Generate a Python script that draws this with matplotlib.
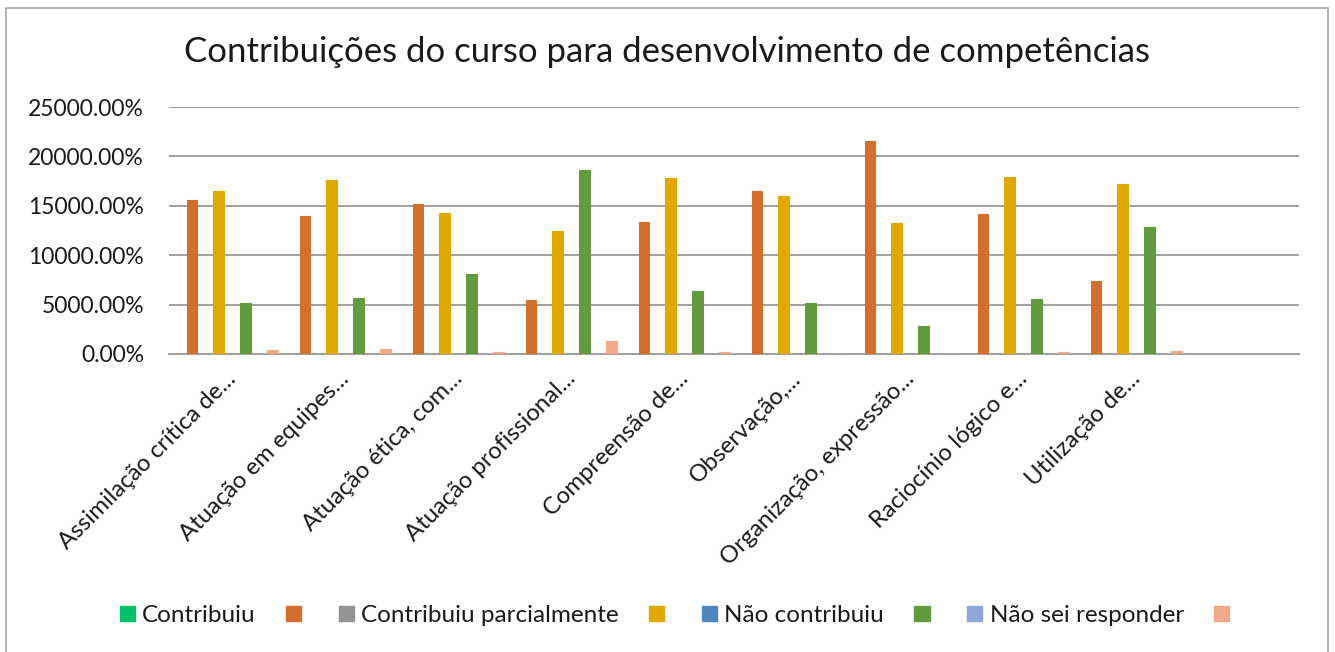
import matplotlib
matplotlib.use("Agg")
import matplotlib.pyplot as plt
from matplotlib.ticker import FuncFormatter, MultipleLocator
from matplotlib.patches import Patch, Rectangle
import numpy as np

plt.rcParams['font.family'] = ['Lato', 'DejaVu Sans']

title = "Contribuições do curso para desenvolvimento de competências"

categories = [
    "Assimilação crítica de...",
    "Atuação em equipes...",
    "Atuação ética, com...",
    "Atuação profissional...",
    "Compreensão de...",
    "Observação,...",
    "Organização, expressão...",
    "Raciocínio lógico e...",
    "Utilização de...",
]

series_names = ["Contribuiu", "", "Contribuiu parcialmente", "", "Não contribuiu", "", "Não sei responder", ""]

s_contribuiu = [0, 0, 0, 0, 0, 0, 0, 0, 0]
s_orange = [156, 140, 152, 55, 134, 165, 216, 142, 74]
s_parcial = [0, 0, 0, 0, 0, 0, 0, 0, 0]
s_yellow = [165, 176, 143, 124, 178, 160, 133, 179, 172]
s_nao = [0, 0, 0, 0, 0, 0, 0, 0, 0]
s_green = [52, 57, 81, 186, 64, 52, 28, 56, 129]
s_naosei = [0, 0, 0, 0, 0, 0, 0, 0, 0]
s_salmon = [4, 5, 2, 13, 2, 0, 0, 2, 3]

series_values = [s_contribuiu, s_orange, s_parcial, s_yellow, s_nao, s_green, s_naosei, s_salmon]
colors = ["#00C06B", "#D46E2C", "#939393", "#E1A900", "#4E86BE", "#629A3F", "#8EA6D8", "#F2A98A"]

fig = plt.figure(figsize=(13.35, 6.52), dpi=100)
fig.patch.set_facecolor("white")

# chart border
fig.add_artist(Rectangle((6 / 1335, -0.01), (1328 - 6) / 1335, 1 - 8 / 652 + 0.01,
                         transform=fig.transFigure, fill=False, edgecolor="#A6A6A6", linewidth=1.2))

ax = fig.add_axes([169 / 1335, 1 - 354 / 652, (1299 - 169) / 1335, (354 - 107) / 652])

n = len(series_values)
slot = 0.1186
width = 0.097
x = np.arange(len(categories))
for i, (vals, c) in enumerate(zip(series_values, colors)):
    ax.bar(x + (i - (n - 1) / 2) * slot, vals, width=width, color=c, edgecolor=c,
           linewidth=0.8, zorder=3)

ax.set_xlim(-0.5, len(categories) + 0.5)
ax.set_ylim(0, 250)
ax.yaxis.set_major_locator(MultipleLocator(50))
ax.yaxis.set_major_formatter(FuncFormatter(lambda v, p: f"{v * 100:.2f}%"))
ax.grid(axis="y", color="#A0A0A0", linewidth=1.4, zorder=0)
ax.set_axisbelow(True)
for s in ["top", "right", "left"]:
    ax.spines[s].set_visible(False)
ax.spines["bottom"].set_color("#A0A0A0")
ax.spines["bottom"].set_linewidth(1.4)
ax.spines["bottom"].set_zorder(1)

ax.tick_params(axis="y", length=0, pad=18, labelsize=16.5, labelcolor="#1a1a1a")
ax.tick_params(axis="x", length=0, pad=10, labelsize=17.2, labelcolor="#1a1a1a")
ax.set_xticks(x)
ax.set_xticklabels(categories, rotation=45, ha="right", va="top", rotation_mode="anchor")

fig.text(0.5, 1 - 52 / 652, title, ha="center", va="center", fontsize=25, color="#1a1a1a")

handles = [Patch(facecolor=c, edgecolor=c) for c in colors]
fig.legend(handles, series_names, loc="center", bbox_to_anchor=(0.508, 1 - 616 / 652),
           ncol=8, frameon=False, fontsize=17.5, handlelength=0.62, handleheight=0.58,
           handletextpad=0.3, columnspacing=1.25, labelcolor="#1a1a1a")

fig.savefig("out.png", dpi=100, facecolor="white")
